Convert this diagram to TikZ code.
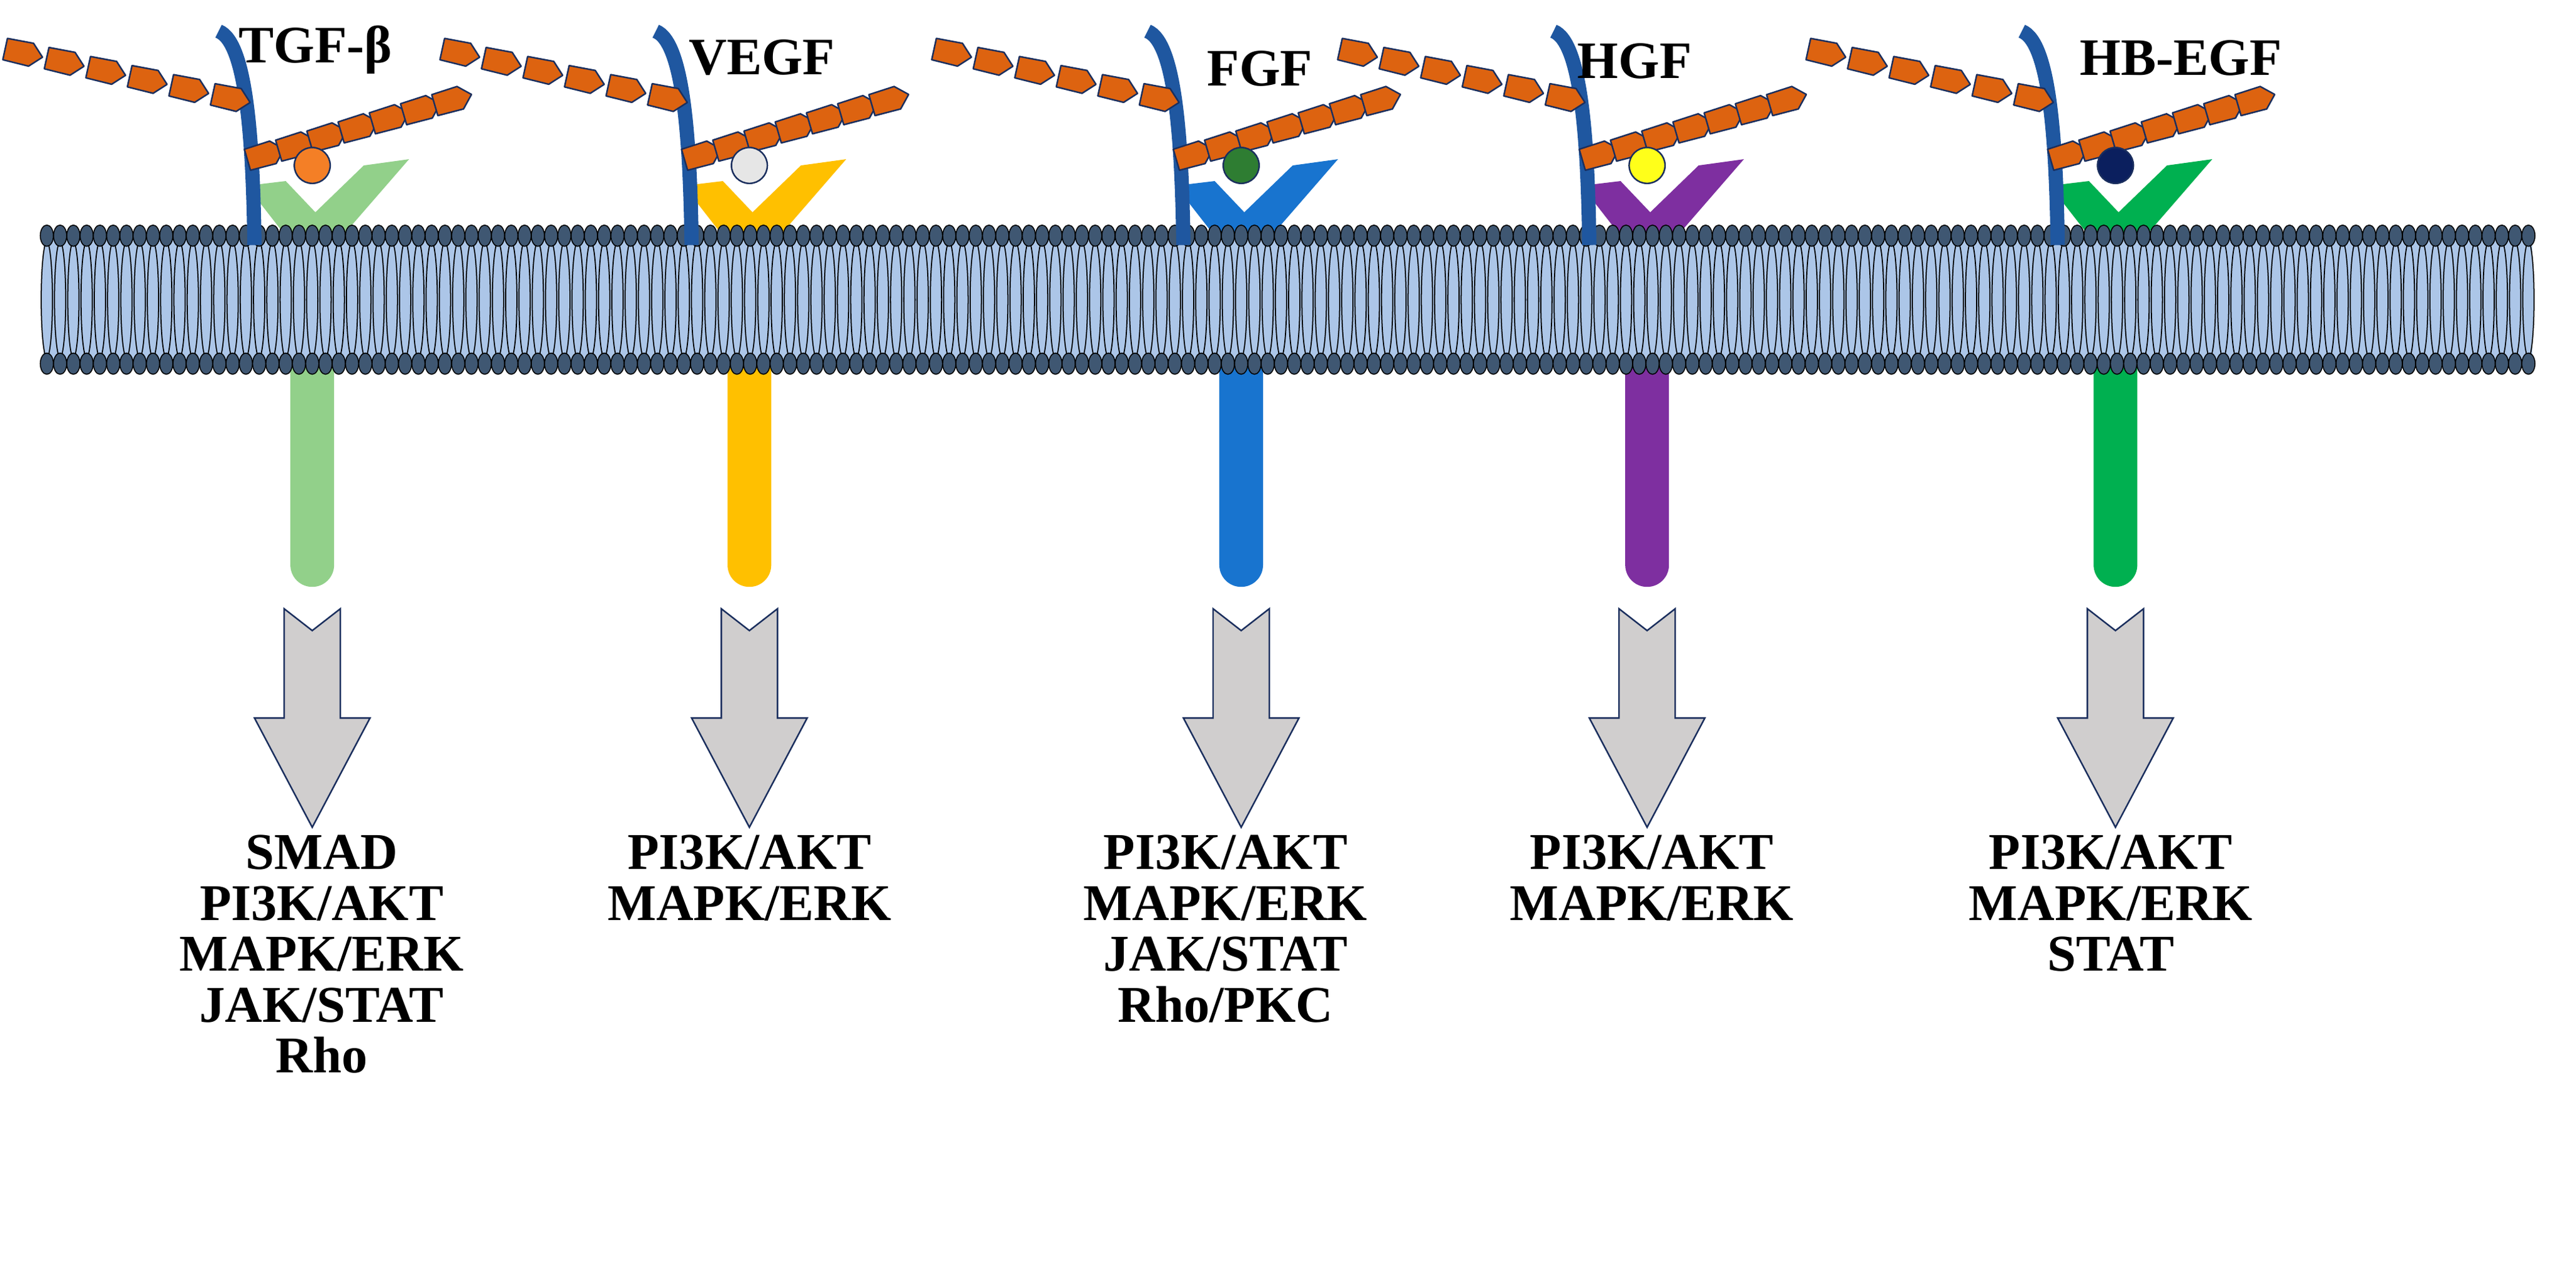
\documentclass[tikz,border=0pt]{standalone}
\usepackage{fontspec}
\setmainfont{Liberation Serif}
\begin{document}
\definecolor{hookblue}{HTML}{1F57A0}
\definecolor{pent}{HTML}{DD6310}
\definecolor{pentline}{HTML}{1B2F5E}
\definecolor{head}{HTML}{3F5772}
\definecolor{tail}{HTML}{ACC6E8}
\definecolor{arrowfill}{HTML}{D0CECE}
\definecolor{rA}{HTML}{92D08A}
\definecolor{rB}{HTML}{FFC000}
\definecolor{rC}{HTML}{1874CF}
\definecolor{rD}{HTML}{7E2FA0}
\definecolor{rE}{HTML}{00B050}
\definecolor{lA}{HTML}{F47F26}
\definecolor{lB}{HTML}{E6E6E6}
\definecolor{lC}{HTML}{2E7D32}
\definecolor{lD}{HTML}{FFFF1A}
\definecolor{lE}{HTML}{0B1F5E}
\begin{tikzpicture}[x=0.025cm,y=-0.025cm,
  pentagon/.style={fill=pent,draw=pentline,line width=0.7pt,line join=round},
  hook/.style={draw=hookblue,line width=6.5pt},
  pathway/.style={align=center,font=\bfseries\fontsize{23.5}{23.2}\selectfont,anchor=north},
  glabel/.style={font=\bfseries\fontsize{24}{26}\selectfont},
  sigarrow/.style={fill=arrowfill,draw=pentline,line width=0.7pt},
  ligand/.style={draw=pentline,line width=0.7pt}]
\useasboundingbox (0,0) rectangle (1650,813);
\newcommand\pchain[5]{% x1,y1,x2,y2,n
  \pgfmathsetmacro\ax{#1}\pgfmathsetmacro\ay{#2}
  \pgfmathsetmacro\bx{#3}\pgfmathsetmacro\by{#4}
  \pgfmathsetmacro\ang{atan2(-(\by-\ay),\bx-\ax)}
  \foreach \k in {0,...,\numexpr#5-1\relax}{
    \pgfmathsetmacro\px{\ax+(\bx-\ax)*\k/(#5-1)}
    \pgfmathsetmacro\py{\ay+(\by-\ay)*\k/(#5-1)}
    \draw[pentagon,shift={(\px,\py)},rotate=\ang] (-12,-7) -- (5,-7.5) -- (12.5,0) -- (5,7.5) -- (-12,7) -- cycle;
  }}
% receptors
\foreach \c/\rc in {200/rA,480/rB,795/rC,1055/rD,1355/rE}{
  \fill[\rc] (\c-14,140) -- (\c+14,140) -- (\c+14,362) arc[start angle=0,end angle=180,x radius=14,y radius=14] -- cycle;
  \fill[\rc] (\c-42,119) -- (\c-17,116) -- (\c+2,136) -- (\c+33,106) -- (\c+62,102) -- (\c+16,155) -- (\c-14,155) -- cycle;
}
% membrane
\fill[tail] (28,150) rectangle (1622,234);
\foreach \i in {0,...,187}{
  \pgfmathsetmacro\xx{30+8.5*\i}
  \draw[fill=tail,line width=0.5pt] (\xx,192) ellipse[x radius=3.6,y radius=37];
}
\foreach \i in {0,...,187}{
  \pgfmathsetmacro\xx{30+8.5*\i}
  \draw[fill=head,line width=0.45pt] (\xx,151) ellipse[x radius=4.2,y radius=6.8];
  \draw[fill=head,line width=0.45pt] (\xx,233) ellipse[x radius=4.2,y radius=6.8];
}
% hooks, chains, ligands, arrows
\foreach \c/\lc in {200/lA,480/lB,795/lC,1055/lD,1355/lE}{
  \draw[hook] (\c-60,20) .. controls (\c-42,27) and (\c-38,90) .. (\c-37,157);
  \pchain{\c-185}{34}{\c-52}{63}{6}
  \pchain{\c-30}{99}{\c+90}{64}{7}
  \draw[ligand,fill=\lc] (\c,106) circle[radius=11.5];
  \draw[sigarrow] (\c-18,390) -- (\c,404) -- (\c+18,390) -- (\c+18,460) -- (\c+37,460) -- (\c,530) -- (\c-37,460) -- (\c-18,460) -- cycle;
}
\node[glabel] (tgf) at (202,32) {TGF-β};
\node[glabel] (vegf) at (488,37) {VEGF};
\node[glabel] (fgf) at (807,44) {FGF};
\node[glabel] (hgf) at (1047,39) {HGF};
\node[glabel] (hbegf) at (1397,37) {HB-EGF};
\node[pathway] (p1) at (206,530) {SMAD\\PI3K/AKT\\MAPK/ERK\\JAK/STAT\\Rho};
\node[pathway] (p2) at (480,530) {PI3K/AKT\\MAPK/ERK};
\node[pathway] (p3) at (785,530) {PI3K/AKT\\MAPK/ERK\\JAK/STAT\\Rho/PKC};
\node[pathway] (p4) at (1058,530) {PI3K/AKT\\MAPK/ERK};
\node[pathway] (p5) at (1352,530) {PI3K/AKT\\MAPK/ERK\\STAT};
\end{tikzpicture}
\end{document}
